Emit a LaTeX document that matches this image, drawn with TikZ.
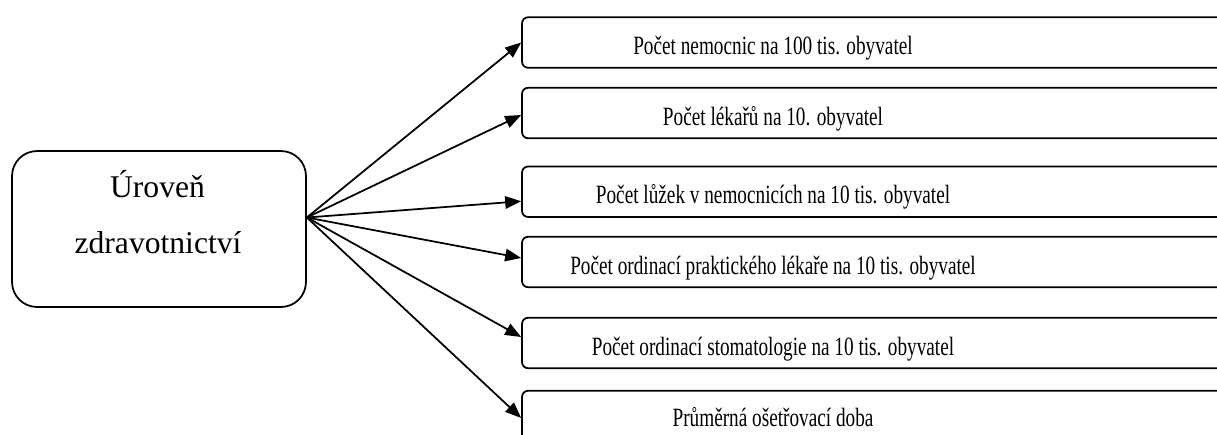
\documentclass[tikz,border=0pt]{standalone}
\usepackage{fontspec}
\setmainfont{Liberation Serif}
\newfontfamily\itemfont[FakeStretch=0.73]{Liberation Serif}
\usetikzlibrary{arrows.meta}

\begin{document}
\begin{tikzpicture}[x=0.02cm,y=-0.02cm,
  mainbox/.style={draw,rounded corners=0.5cm,line width=1pt,minimum width=5.88cm,minimum height=3.12cm},
  itembox/.style={draw,rounded corners=0.12cm,line width=1pt,minimum width=14.76cm,minimum height=1.01cm},
  maintext/.style={anchor=base,inner sep=0pt,font=\fontsize{18pt}{22pt}\selectfont},
  itemtext/.style={anchor=base,inner sep=0pt,font=\itemfont\fontsize{15pt}{18pt}\selectfont},
  link/.style={-{Triangle[length=0.32cm,width=0.25cm]},line width=1pt}]
  \useasboundingbox (0,0) rectangle (1217,434);

  \node[mainbox] (lvl) at (159,229) {};
  \node[maintext] (lvl1) at (157.5,197) {Úroveň};
  \node[maintext] (lvl2) at (158,253) {zdravotnictví};
  \coordinate (hub) at ([yshift=0.23cm]lvl.east);

  \node[itembox] (b1) at (891,42.5) {};
  \node[itembox] (b2) at (891,113) {};
  \node[itembox] (b3) at (891,191.75) {};
  \node[itembox] (b4) at (891,262) {};
  \node[itembox] (b5) at (891,343) {};
  \node[itembox] (b6) at (891,416) {};

  \node[itemtext] (t1) at (773,54) {Počet nemocnic na 100 tis. obyvatel};
  \node[itemtext] (t2) at (773,125) {Počet lékařů na 10. obyvatel};
  \node[itemtext] (t3) at (773,203) {Počet lůžek v nemocnicích na 10 tis. obyvatel};
  \node[itemtext] (t4) at (773,274) {Počet ordinací praktického lékaře na 10 tis. obyvatel};
  \node[itemtext] (t5) at (773,355) {Počet ordinací stomatologie na 10 tis. obyvatel};
  \node[itemtext] (t6) at (773,426) {Průměrná ošetřovací doba};

  \draw[link] (hub) -- (b1.west);
  \draw[link] (hub) -- ([yshift=-0.04cm]b2.west);
  \draw[link] (hub) -- ([yshift=-0.19cm]b3.west);
  \draw[link] (hub) -- ([yshift=0.08cm]b4.west);
  \draw[link] (hub) -- ([yshift=0.12cm]b5.west);
  \draw[link] (hub) -- ([yshift=-0.04cm]b6.west);
\end{tikzpicture}
\end{document}
